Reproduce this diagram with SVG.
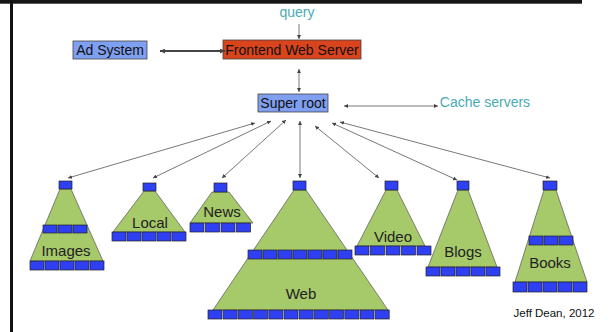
<svg xmlns="http://www.w3.org/2000/svg" width="610" height="332" viewBox="0 0 610 332">
<style>
.lbl{font-family:"Liberation Sans",Arial,sans-serif;font-size:14px;fill:#111;text-anchor:middle}
.tl{font-family:"Liberation Sans",Arial,sans-serif;font-size:15px;fill:#222;text-anchor:middle}
.teal{font-family:"Liberation Sans",Arial,sans-serif;font-size:14px;fill:#4aaab4;text-anchor:middle}
.svc{fill:#7f9ff0;stroke:#444;stroke-width:0.8}
.fe{fill:#d9441c;stroke:#444;stroke-width:0.8}
.tri{fill:#a6c96a;stroke:#555;stroke-width:0.7}
.b{fill:#2f3ff2;stroke:#222;stroke-width:0.7}
.c{stroke:#555;stroke-width:0.8;fill:none;marker-start:url(#ah);marker-end:url(#ah)}
</style>
<defs>
<marker id="ah" viewBox="0 0 6 6" refX="6" refY="3" markerWidth="4" markerHeight="4" markerUnits="userSpaceOnUse" orient="auto-start-reverse">
<path d="M0,0 L6,3 L0,6 z" fill="#444"/>
</marker>
<marker id="ah2" viewBox="0 0 6 6" refX="6" refY="3" markerWidth="5" markerHeight="5" markerUnits="userSpaceOnUse" orient="auto-start-reverse">
<path d="M0,0 L6,3 L0,6 z" fill="#444"/>
</marker>
</defs>
<rect x="0" y="0" width="610" height="332" fill="#fff"/>
<rect x="0" y="0" width="582" height="3.7" fill="#161616"/>
<rect x="10" y="0" width="3" height="332" fill="#111"/>

<g id="query"><text class="teal" x="297" y="17">query</text></g>
<g id="ad-system"><rect class="svc" x="73" y="41" width="74" height="18"/><text class="lbl" x="110" y="55">Ad System</text></g>
<g id="frontend"><rect class="fe" x="223" y="40" width="138" height="19"/><text class="lbl" x="292" y="55">Frontend Web Server</text></g>
<g id="super-root"><rect class="svc" x="258" y="94" width="70" height="18"/><text class="lbl" x="293" y="108">Super root</text></g>
<g id="cache"><text class="teal" x="485" y="107">Cache servers</text></g>

<g id="connectors">
<line x1="299" y1="24" x2="299" y2="39" stroke="#555" stroke-width="0.8" marker-end="url(#ah)"/>
<line x1="160" y1="51" x2="225" y2="51" stroke="#444" stroke-width="1.8" marker-start="url(#ah2)" marker-end="url(#ah2)"/>
<line class="c" x1="299" y1="69" x2="299" y2="92"/>
<line class="c" x1="344" y1="106" x2="438" y2="106"/>
<line class="c" x1="255" y1="123" x2="68" y2="178"/>
<line class="c" x1="271" y1="121" x2="153" y2="178"/>
<line class="c" x1="286" y1="120" x2="222" y2="178"/>
<line class="c" x1="300" y1="121" x2="300" y2="178"/>
<line class="c" x1="315" y1="126" x2="379" y2="178"/>
<line class="c" x1="332" y1="123" x2="457" y2="180"/>
<line class="c" x1="340" y1="122" x2="550" y2="178"/>
</g>

<g id="images">
<polygon class="tri" points="60,189 71,189 103,261 30,261"/>
<rect class="b" x="59" y="181" width="13" height="8"/>
<rect class="b" x="43" y="225" width="14" height="8"/><rect class="b" x="58" y="225" width="14" height="8"/><rect class="b" x="73" y="225" width="14" height="8"/>
<rect class="b" x="30" y="261" width="14" height="9"/><rect class="b" x="45" y="261" width="14" height="9"/><rect class="b" x="60" y="261" width="14" height="9"/><rect class="b" x="75" y="261" width="14" height="9"/><rect class="b" x="90" y="261" width="14" height="9"/>
<text class="tl" x="66" y="256">Images</text>
</g>

<g id="local">
<polygon class="tri" points="144,191 155,191 185,232 113,232"/>
<rect class="b" x="143" y="183" width="13" height="8"/>
<rect class="b" x="112" y="232" width="14" height="9"/><rect class="b" x="127" y="232" width="14" height="9"/><rect class="b" x="142" y="232" width="14" height="9"/><rect class="b" x="157" y="232" width="14" height="9"/><rect class="b" x="172" y="232" width="14" height="9"/>
<text class="tl" x="150" y="228">Local</text>
</g>

<g id="news">
<polygon class="tri" points="212,192 229,192 253,223 190,223"/>
<rect class="b" x="214" y="183" width="13" height="9"/>
<rect class="b" x="190" y="223" width="14" height="9"/><rect class="b" x="205.5" y="223" width="14" height="9"/><rect class="b" x="221" y="223" width="14" height="9"/><rect class="b" x="236.5" y="223" width="14" height="9"/>
<text class="tl" x="222" y="217">News</text>
</g>

<g id="web">
<polygon class="tri" points="294,190 306,190 388,310 213,310"/>
<rect class="b" x="293" y="181" width="13" height="9"/>
<rect class="b" x="248" y="250" width="14" height="9"/><rect class="b" x="263" y="250" width="14" height="9"/><rect class="b" x="278" y="250" width="14" height="9"/><rect class="b" x="293" y="250" width="14" height="9"/><rect class="b" x="308" y="250" width="14" height="9"/><rect class="b" x="323" y="250" width="14" height="9"/><rect class="b" x="338" y="250" width="14" height="9"/>
<rect class="b" x="208" y="310" width="14" height="9"/><rect class="b" x="223.2" y="310" width="14" height="9"/><rect class="b" x="238.4" y="310" width="14" height="9"/><rect class="b" x="253.6" y="310" width="14" height="9"/><rect class="b" x="268.8" y="310" width="14" height="9"/><rect class="b" x="284" y="310" width="14" height="9"/><rect class="b" x="299.2" y="310" width="14" height="9"/><rect class="b" x="314.4" y="310" width="14" height="9"/><rect class="b" x="329.6" y="310" width="14" height="9"/><rect class="b" x="344.8" y="310" width="14" height="9"/><rect class="b" x="360" y="310" width="14" height="9"/><rect class="b" x="375.2" y="310" width="14" height="9"/>
<text class="tl" x="301" y="299">Web</text>
</g>

<g id="video">
<polygon class="tri" points="386,190 397,190 425,246 357,246"/>
<rect class="b" x="385" y="181" width="13" height="9"/>
<rect class="b" x="355" y="246" width="14" height="9"/><rect class="b" x="370.5" y="246" width="14" height="9"/><rect class="b" x="386" y="246" width="14" height="9"/><rect class="b" x="401.5" y="246" width="14" height="9"/><rect class="b" x="417" y="246" width="14" height="9"/>
<text class="tl" x="393" y="242">Video</text>
</g>

<g id="blogs">
<polygon class="tri" points="458,190 468,190 497,267 428,267"/>
<rect class="b" x="457" y="181" width="12" height="9"/>
<rect class="b" x="426" y="267" width="14" height="9"/><rect class="b" x="441" y="267" width="14" height="9"/><rect class="b" x="456" y="267" width="14" height="9"/><rect class="b" x="471" y="267" width="14" height="9"/><rect class="b" x="486" y="267" width="14" height="9"/>
<text class="tl" x="463" y="257">Blogs</text>
</g>

<g id="books">
<polygon class="tri" points="544,190 556,190 587,282 515,282"/>
<rect class="b" x="543" y="181" width="14" height="9"/>
<rect class="b" x="529" y="236" width="14" height="9"/><rect class="b" x="544" y="236" width="14" height="9"/><rect class="b" x="559" y="236" width="14" height="9"/>
<rect class="b" x="513" y="282" width="14" height="10"/><rect class="b" x="528" y="282" width="14" height="10"/><rect class="b" x="543" y="282" width="14" height="10"/><rect class="b" x="558" y="282" width="14" height="10"/><rect class="b" x="573" y="282" width="14" height="10"/>
<text class="tl" x="550" y="268">Books</text>
</g>

<g id="credit"><text x="554" y="317" font-family="'Liberation Sans',Arial,sans-serif" font-size="11.5" fill="#111" text-anchor="middle">Jeff Dean, 2012</text></g>
</svg>
